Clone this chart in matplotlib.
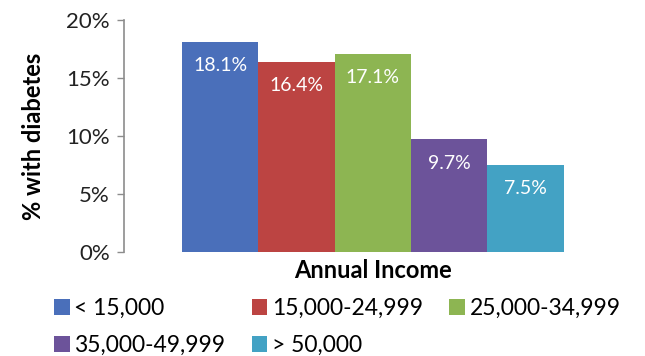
import numpy as np
import matplotlib.pyplot as plt
from matplotlib.patches import Patch

plt.rcParams['font.family'] = ['Lato', 'DejaVu Sans']

income_groups = ['< 15,000', '15,000-24,999', '25,000-34,999',
                 '35,000-49,999', '> 50,000']
pct_diabetes = [18.1, 16.4, 17.1, 9.7, 7.5]
colors = ['#4a6fba', '#bc4442', '#8db552', '#6c539a', '#43a2c4']

fig = plt.figure(figsize=(6.45, 3.56), dpi=100)
ax = fig.add_axes([0.192, 0.292, 0.772, 0.652])

x = np.arange(len(pct_diabetes))
bars = ax.bar(x, pct_diabetes, width=1.0, color=colors, edgecolor='none')

for xi, v in zip(x, pct_diabetes):
    ax.annotate(f'{v:.1f}%', (xi, v), xytext=(0, -11),
                textcoords='offset points', ha='center', va='top',
                color='white', fontsize=14)

ax.set_xlim(-1.26, 5.26)
ax.set_ylim(0, 20)
ax.set_yticks([0, 5, 10, 15, 20])
ax.set_yticklabels([f'{t}%' for t in [0, 5, 10, 15, 20]], fontsize=16,
                   color='#222222')
ax.set_xticks([])
ax.tick_params(axis='y', length=5, width=1, color='#8c8c8c', pad=5)

for s in ['top', 'right', 'bottom']:
    ax.spines[s].set_visible(False)
ax.spines['left'].set_color('#8c8c8c')
ax.spines['left'].set_linewidth(1.2)

ax.set_ylabel('% with diabetes', fontsize=17, fontweight='bold', labelpad=15)
ax.set_xlabel('Annual Income', fontsize=17, fontweight='bold', labelpad=5)

# legend fills column-wise, so interleave entries to read across rows
order = [0, 3, 1, 4, 2]
handles = [Patch(facecolor=colors[i], edgecolor='none') for i in order]
labels = [income_groups[i] for i in order]
fig.legend(handles, labels, loc='upper left',
           bbox_to_anchor=(0.084, 0.162), ncol=3, frameon=False,
           fontsize=16.5, handlelength=0.68, handleheight=0.68,
           handletextpad=0.2, columnspacing=1.15, labelspacing=0.68,
           borderaxespad=0, borderpad=0)

fig.savefig('out.png', dpi=100)
